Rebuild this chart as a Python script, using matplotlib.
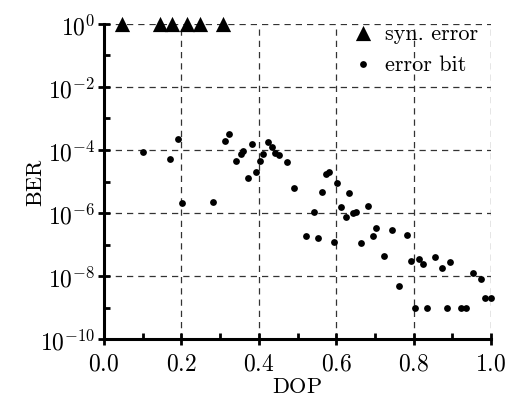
import matplotlib
matplotlib.use("Agg")
import matplotlib.pyplot as plt
from matplotlib.ticker import FixedLocator, FuncFormatter
import numpy as np

plt.rcParams['mathtext.fontset'] = 'cm'
plt.rcParams['font.family'] = 'serif'
plt.rcParams['font.serif'] = ['cmr10', 'DejaVu Serif']
plt.rcParams['axes.formatter.use_mathtext'] = True

# syn. error (BER = 1)
syn_dop = [0.047, 0.145, 0.175, 0.214, 0.248, 0.307]
syn_ber = [1.0] * len(syn_dop)

# error bit: DOP and log10(BER)
err_dop = [0.10, 0.171, 0.192, 0.202, 0.282, 0.312, 0.322, 0.342, 0.353, 0.360,
           0.373, 0.382, 0.392, 0.402, 0.411, 0.423, 0.433, 0.442, 0.453, 0.472,
           0.492, 0.522, 0.543, 0.553, 0.563, 0.574, 0.582, 0.594, 0.603, 0.613,
           0.625, 0.633, 0.644, 0.651, 0.663, 0.683, 0.694, 0.703, 0.724, 0.744,
           0.763, 0.784, 0.794, 0.804, 0.814, 0.823, 0.835, 0.854, 0.873, 0.885,
           0.894, 0.922, 0.935, 0.954, 0.974, 0.985, 1.0]
err_logber = [-4.05, -4.30, -3.64, -5.69, -5.64, -3.72, -3.49, -4.36, -4.13, -4.03,
              -4.90, -3.81, -4.69, -4.34, -4.14, -3.75, -3.92, -4.11, -4.15, -4.38,
              -5.20, -6.74, -5.98, -6.80, -5.34, -4.76, -4.71, -6.91, -5.06, -5.80,
              -6.14, -5.35, -6.00, -5.98, -6.96, -5.77, -6.72, -6.48, -7.35, -6.55,
              -8.30, -6.70, -7.51, -9.00, -7.46, -7.63, -9.00, -7.38, -7.73, -9.00,
              -7.54, -9.00, -9.00, -7.90, -8.08, -8.71, -8.71]
err_ber = [10.0 ** v for v in err_logber]

x_ticks = [0.0, 0.2, 0.4, 0.6, 0.8, 1.0]
y_ticks = [1e-10, 1e-8, 1e-6, 1e-4, 1e-2, 1e0]

fig = plt.figure(figsize=(5.11, 4.02), dpi=100)
ax = fig.add_axes([0.2035, 0.154, 0.7575, 0.784])

ax.scatter(syn_dop, syn_ber, marker='^', s=120, color='black', clip_on=False,
           zorder=3, label='syn. error', linewidths=0)
ax.scatter(err_dop, err_ber, marker='o', s=24, color='black', clip_on=False,
           zorder=3, label='error bit', linewidths=0)

ax.set_yscale('log')
ax.set_xlim(0, 1.0)
ax.set_ylim(1e-10, 1e0)

ax.xaxis.set_major_locator(FixedLocator(x_ticks))
ax.xaxis.set_minor_locator(FixedLocator([0.1, 0.3, 0.5, 0.7, 0.9]))
ax.xaxis.set_major_formatter(FuncFormatter(lambda v, p: r'$\mathrm{%.1f}$' % v))
ax.yaxis.set_major_locator(FixedLocator(y_ticks))
ax.yaxis.set_minor_locator(FixedLocator([1e-9, 1e-7, 1e-5, 1e-3, 1e-1]))
ax.yaxis.set_major_formatter(FuncFormatter(lambda v, p: r'$10^{%d}$' % int(round(np.log10(v)))))
ax.yaxis.set_minor_formatter(FuncFormatter(lambda v, p: ''))

ax.grid(True, which='major', linestyle=(0, (5, 4)), color='#333333', linewidth=0.9)
ax.set_axisbelow(True)

for s in ['top', 'right']:
    ax.spines[s].set_visible(False)
for s in ['left', 'bottom']:
    ax.spines[s].set_linewidth(2.2)

ax.tick_params(which='major', direction='inout', length=9, width=2.0, labelsize=17, pad=5)
ax.tick_params(axis='y', which='major', pad=2)
ax.tick_params(which='minor', direction='in', length=4, width=2.0)

ax.set_xlabel(r'$\mathrm{DOP}$', fontsize=16)
ax.set_ylabel(r'$\mathrm{BER}$', fontsize=16)
ax.yaxis.set_label_coords(-0.15, 0.5)
ax.xaxis.set_label_coords(0.5, -0.118)

leg = ax.legend(loc='upper right', frameon=False, fontsize=16, handletextpad=0.2,
                borderaxespad=0.0, labelspacing=0.5, bbox_to_anchor=(0.99, 1.03),
                markerscale=1.0, handlelength=1.6)

fig.savefig('out.png', dpi=100, facecolor='white')
